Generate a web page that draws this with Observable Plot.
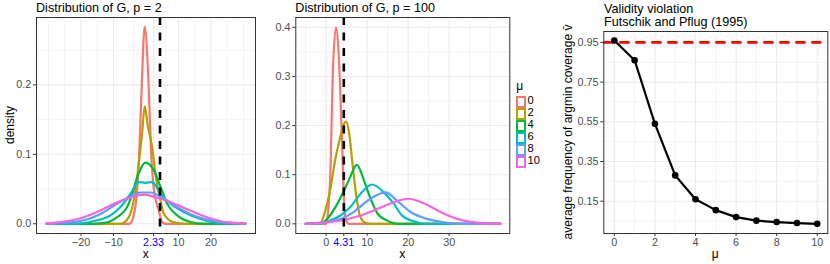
<!DOCTYPE html>
<html><head><meta charset="utf-8">
<script src="https://cdn.jsdelivr.net/npm/d3@7"></script>
<script src="https://cdn.jsdelivr.net/npm/@observablehq/plot@0.6"></script>
<style>
body{margin:0;background:#fff;font-family:"Liberation Sans",Arial,Helvetica,sans-serif}
#root{position:relative;width:830px;height:264px;overflow:hidden;background:#fff}
#root svg{position:absolute;left:0;top:0}
.t{position:absolute;white-space:nowrap;color:#000;line-height:1}
.key{position:absolute;width:6px;height:8px;border:2px solid;background:#fff}
</style></head>
<body><div id="root"></div>
<script>
// ---------- data ----------
const muLevels = [0, 2, 4, 6, 8, 10];
const muColors = ["#F8766D", "#B79F00", "#00BA38", "#00BFC4", "#619CFF", "#F564E3"];

// Panel 1: density of G, p = 2   ([x, density])
const p2_mu0  = [[-30.6,0],[-5.1,0],[-3.9,0.01],[-2.7,0.05],[-2.1,0.1],[-1.3,0.2],[-0.4,0.284],[0.8,0.2],[1.6,0.1],[2.4,0.05],[3.9,0.02],[5.0,0.002],[6,0],[30.6,0]];
const p2_mu2  = [[-30.6,0],[-7.8,0],[-5.3,0.0095],[-3.75,0.034],[-2.4,0.08],[-1.2,0.13],[-0.4,0.169],[0.6,0.14],[1.9,0.11],[2.9,0.072],[4.25,0.038],[5.5,0.014],[8.6,0.002],[12,0],[30.6,0]];
const p2_mu4  = [[-30.6,0],[-16,0],[-11.9,0.002],[-8.9,0.0095],[-5.8,0.024],[-4.25,0.043],[-2.7,0.067],[-0.15,0.088],[2.4,0.077],[4.5,0.053],[6.5,0.029],[9.6,0.012],[13.7,0.0026],[18,0],[30.6,0]];
const p2_mu6  = [[-30.6,0],[-22.2,0],[-16,0.004],[-10.9,0.012],[-7.85,0.024],[-4.8,0.043],[-2.2,0.06],[-0.15,0.059],[1.9,0.06],[4.5,0.043],[7.5,0.029],[11.6,0.017],[16.8,0.007],[22.9,0.001],[30.6,0]];
const p2_mu8  = [[-30.6,0],[-26.3,0.001],[-19.1,0.005],[-14,0.014],[-9.9,0.026],[-5.8,0.037],[-1.7,0.045],[1.4,0.045],[5.5,0.036],[9.6,0.024],[14.7,0.012],[20.9,0.004],[27,0.001],[30.6,0]];
const p2_mu10 = [[-30.6,0.0005],[-25.3,0.003],[-19.1,0.0095],[-14,0.019],[-9.9,0.029],[-5.8,0.036],[-0.7,0.042],[4.5,0.036],[8.6,0.029],[13.7,0.019],[18.8,0.0095],[25,0.002],[30.6,0.0005]];

// Panel 2: density of G, p = 100
const p100_mu0  = [[-5,0],[0,0],[0.24,0.007],[0.63,0.04],[1.05,0.108],[1.29,0.19],[1.6,0.3],[2.4,0.4],[3.3,0.3],[3.75,0.2],[4.1,0.108],[4.4,0.04],[4.8,0.01],[5.5,0],[42.5,0]];
const p100_mu2  = [[-5,0],[-1.4,0.002],[-0.2,0.027],[1.05,0.072],[2.27,0.133],[3.2,0.168],[4.1,0.198],[4.9,0.208],[5.6,0.185],[6.4,0.125],[7.3,0.06],[8.3,0.015],[9.6,0.002],[11,0],[42.5,0]];
const p100_mu4  = [[-5,0],[-1.5,0.001],[0.24,0.01],[2.27,0.034],[4.0,0.061],[5.7,0.092],[7.5,0.12],[9.2,0.089],[10.8,0.052],[12.6,0.02],[14.8,0.007],[17.5,0],[42.5,0]];
const p100_mu6  = [[-5,0],[-1.4,0.001],[1.05,0.007],[3.5,0.017],[5.9,0.034],[8.4,0.061],[11.2,0.08],[14.05,0.064],[16.5,0.041],[18.5,0.017],[21.4,0.005],[24,0],[42.5,0]];
const p100_mu8  = [[-5,0],[-0.5,0.003],[3.5,0.01],[6.7,0.024],[9.2,0.041],[10.8,0.051],[14.5,0.064],[17.3,0.047],[20.6,0.024],[24.6,0.01],[28.7,0.003],[32,0],[42.5,0]];
const p100_mu10 = [[-5,0],[-1.4,0.002],[4.3,0.008],[8.4,0.017],[12.4,0.03],[16.5,0.044],[20.1,0.051],[23.8,0.042],[27.9,0.024],[31.95,0.01],[36,0.003],[42.5,0]];

// Panel 3: validity violation
const muSteps = [0, 1, 2, 3, 4, 5, 6, 7, 8, 9, 10];
const coverage = [0.96, 0.86, 0.54, 0.28, 0.16, 0.105, 0.07, 0.052, 0.045, 0.04, 0.036];
const nominal = 0.95;

// tick labels / breaks
const p2Breaks = [-20, -10, 2.33, 10, 20];
const p2Minor = [-30, -25, -15, -3.835, 6.165, 15, 25, 30];
const p100Breaks = [0, 4.31, 10, 20, 30];
const p100Minor = [-5, 15, 25, 35, 40];
const cutoff = 4.31;
const p2Y = [0, 0.1, 0.2], p2YMinor = [0.05, 0.15, 0.25];
const p100Y = [0, 0.1, 0.2, 0.3, 0.4], p100YMinor = [0.05, 0.15, 0.25, 0.35];
const vY = [0.15, 0.35, 0.55, 0.75, 0.95], vYMinor = [0.05, 0.25, 0.45, 0.65, 0.85];
const vX = [0, 2, 4, 6, 8, 10], vXMinor = [1, 3, 5, 7, 9];

// ---------- build ----------
const root = document.getElementById("root");
const FONT = '"Liberation Sans", Arial, Helvetica, sans-serif';
const toRows = (series) => series.flatMap((arr, i) => arr.map(([x, y]) => ({mu: muLevels[i], x, y})));
const p2Data = toRows([p2_mu0, p2_mu2, p2_mu4, p2_mu6, p2_mu8, p2_mu10]);
const p100Data = toRows([p100_mu0, p100_mu2, p100_mu4, p100_mu6, p100_mu8, p100_mu10]);
const vData = muSteps.map((m, i) => ({mu: m, v: coverage[i]}));

const GRID = "#EBEBEB";
function common(m) {
  return {
    width: 830, height: 264,
    marginLeft: m[0], marginRight: 830 - m[1], marginTop: m[2], marginBottom: 264 - m[3],
    style: {background: "transparent", fontFamily: FONT, fontSize: "10.8px", overflow: "visible"},
    color: {domain: muLevels, range: muColors}
  };
}
function axes(xt, yt, yfmt, xfmt) {
  return [
    Plot.axisX(xt, {tickSize: 3, tickPadding: 1.5, stroke: "#333", fill: "#4D4D4D", label: null, tickFormat: xfmt}),
    Plot.axisY(yt, {tickSize: 3, tickPadding: 2.3, stroke: "#333", fill: "#4D4D4D", label: null, tickFormat: yfmt})
  ];
}
const f1 = d3.format(".1f");
const fint = (d) => (d < 0 ? "\u2212" : "") + Math.abs(d);

// Panel 1
root.appendChild(Plot.plot({
  ...common([36, 255, 17, 233]),
  x: {domain: [-33.7, 33.7]},
  y: {domain: [-0.014, 0.297]},
  marks: [
    Plot.gridX(p2Minor, {stroke: GRID, strokeOpacity: 1, strokeWidth: 0.6}),
    Plot.gridX(p2Breaks, {stroke: GRID, strokeOpacity: 1, strokeWidth: 1.1}),
    Plot.gridY(p2YMinor, {stroke: GRID, strokeOpacity: 1, strokeWidth: 0.6}),
    Plot.gridY(p2Y, {stroke: GRID, strokeOpacity: 1, strokeWidth: 1.1}),
    Plot.line(p2Data, {x: "x", y: "y", z: "mu", stroke: "mu", strokeWidth: 2.2, curve: "monotone-x"}),
    Plot.ruleX([cutoff], {stroke: "#000", strokeWidth: 2.6, strokeDasharray: "8,7.5"}),
    Plot.frame({stroke: "#333", strokeWidth: 1}),
    ...axes(p2Breaks.filter(d => d !== 2.33), p2Y, f1, fint),
    Plot.axisX([2.33], {tickSize: 3, tickPadding: 1.5, stroke: "#333", fill: "blue", label: null, tickFormat: d3.format(".2f")})
  ]
}));

// Panel 2
root.appendChild(Plot.plot({
  ...common([295.3, 509.3, 17, 233]),
  x: {domain: [-7.4, 44.8]},
  y: {domain: [-0.0197, 0.42]},
  marks: [
    Plot.gridX(p100Minor, {stroke: GRID, strokeOpacity: 1, strokeWidth: 0.6}),
    Plot.gridX(p100Breaks, {stroke: GRID, strokeOpacity: 1, strokeWidth: 1.1}),
    Plot.gridY(p100YMinor, {stroke: GRID, strokeOpacity: 1, strokeWidth: 0.6}),
    Plot.gridY(p100Y, {stroke: GRID, strokeOpacity: 1, strokeWidth: 1.1}),
    Plot.line(p100Data, {x: "x", y: "y", z: "mu", stroke: "mu", strokeWidth: 2.2, curve: "monotone-x"}),
    Plot.ruleX([cutoff], {stroke: "#000", strokeWidth: 2.6, strokeDasharray: "8,7.5"}),
    Plot.frame({stroke: "#333", strokeWidth: 1}),
    ...axes(p100Breaks.filter(d => d !== cutoff), p100Y, f1, fint),
    Plot.axisX([cutoff], {tickSize: 3, tickPadding: 1.5, stroke: "#333", fill: "blue", label: null, tickFormat: d3.format(".2f")})
  ]
}));

// Panel 3
root.appendChild(Plot.plot({
  ...common([603.3, 827.3, 31, 233]),
  x: {domain: [-0.52, 10.52]},
  y: {domain: [-0.0127, 1.005]},
  marks: [
    Plot.gridX(vXMinor, {stroke: GRID, strokeOpacity: 1, strokeWidth: 0.6}),
    Plot.gridX(vX, {stroke: GRID, strokeOpacity: 1, strokeWidth: 1.1}),
    Plot.gridY(vYMinor, {stroke: GRID, strokeOpacity: 1, strokeWidth: 0.6}),
    Plot.gridY(vY, {stroke: GRID, strokeOpacity: 1, strokeWidth: 1.1}),
    Plot.ruleY([nominal], {stroke: "red", strokeWidth: 2.6, strokeDasharray: "10,6"}),
    Plot.line(vData, {x: "mu", y: "v", stroke: "#000", strokeWidth: 2.2}),
    Plot.dot(vData, {x: "mu", y: "v", fill: "#000", r: 3.3}),
    Plot.frame({stroke: "#333", strokeWidth: 1}),
    ...axes(vX, vY, d3.format(".2f"), fint)
  ]
}));

// ---------- texts ----------
function txt(s, x, y, {size = 12.6, anchor = "left", rotate = false, color = "#000"} = {}) {
  const d = document.createElement("div");
  d.className = "t";
  d.textContent = s;
  d.style.fontSize = size + "px";
  d.style.color = color;
  d.style.left = x + "px";
  d.style.top = y + "px";
  if (rotate) d.style.transform = "translate(-50%,-50%) rotate(-90deg)";
  else if (anchor === "center") d.style.transform = "translate(-50%,-50%)";
  else d.style.transform = "translate(0,-50%)";
  root.appendChild(d);
}
txt("Distribution of G, p = 2", 36, 8.3);
txt("Distribution of G, p = 100", 295.3, 8.3);
txt("Validity violation", 604, 8.5);
txt("Futschik and Pflug (1995)", 604, 21.5);
txt("density", 10, 125, {size: 12, rotate: true});
txt("x", 145.7, 254, {size: 12, anchor: "center"});
txt("x", 402.3, 254, {size: 12, anchor: "center"});
txt("\u03bc", 715.3, 254, {size: 12, anchor: "center"});
txt("average frequency of argmin coverage v\u0304", 568, 132, {size: 12, rotate: true});

// legend
txt("\u03bc", 516.3, 86, {size: 12});
muLevels.forEach((m, i) => {
  const k = document.createElement("div");
  k.className = "key";
  k.style.borderColor = muColors[i];
  k.style.left = "516px";
  k.style.top = (95.5 + 12 * i) + "px";
  root.appendChild(k);
  txt(String(m), 527.5, 100.5 + 12 * i, {size: 11.2});
});
</script></body></html>
